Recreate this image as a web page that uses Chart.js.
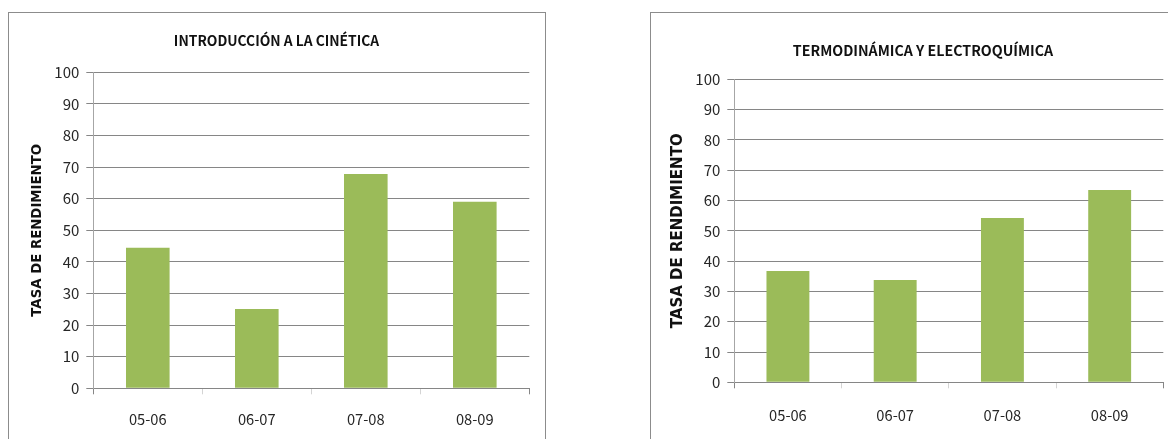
<!DOCTYPE html>
<html lang="es">
<head>
<meta charset="utf-8">
<title>Tasa de rendimiento por curso</title>
<script src="https://cdn.jsdelivr.net/npm/chart.js@4/dist/chart.umd.min.js"></script>
<style>
  html, body { margin: 0; padding: 0; background: #fff; overflow: hidden; }
  body { width: 1168px; height: 439px; position: relative; }
  .marco { position: absolute; border: 1px solid #8c8c8c; background: #fff; box-sizing: content-box; }
  .marco canvas { position: absolute; left: 0; top: 0; }
</style>
</head>
<body>
<div class="marco" style="left:8px; top:12px; width:536px; height:440px;">
  <canvas id="graficoCinetica" width="536" height="426"></canvas>
</div>
<div class="marco" style="left:650px; top:12px; width:560px; height:440px;">
  <canvas id="graficoTermo" width="517" height="426"></canvas>
</div>
<script>
// Cursos académicos
const temporadas = ['05-06', '06-07', '07-08', '08-09'];

// Tasa de rendimiento (%) por asignatura
const tasaCinetica = [44.5, 25.1, 67.8, 59.0];
const tasaTermo = [36.7, 33.8, 54.2, 63.5];

// Marcas del eje vertical
const marcasY = [0, 10, 20, 30, 40, 50, 60, 70, 80, 90, 100];

const tituloCinetica = 'INTRODUCCIÓN A LA CINÉTICA';
const tituloTermo = 'TERMODINÁMICA Y ELECTROQUÍMICA';
const tituloEjeY = 'TASA DE RENDIMIENTO';

const VERDE = '#9BBB59';
const GRIS_REJILLA = '#868686';
const GRIS_CLARO = '#d4d4d4';
const FUENTE = "'Noto Sans CJK JP', 'Liberation Sans', Arial, sans-serif";

function grafico(id, titulo, valores, a) {
  return new Chart(document.getElementById(id), {
    type: 'bar',
    data: {
      labels: temporadas,
      datasets: [{
        data: valores,
        backgroundColor: VERDE,
        borderWidth: 0,
        barPercentage: 0.4,
        categoryPercentage: 1.0
      }]
    },
    options: {
      responsive: false,
      animation: false,
      devicePixelRatio: 1,
      events: [],
      layout: { padding: { left: a.padIzq, right: a.padDer, top: 0, bottom: 0 } },
      plugins: {
        legend: { display: false },
        tooltip: { enabled: false },
        title: {
          display: true,
          text: titulo,
          color: '#111',
          font: { family: FUENTE, size: a.tamTitulo, weight: 'bold', lineHeight: 1.2 },
          padding: { top: a.tituloArriba, bottom: a.tituloAbajo }
        }
      },
      scales: {
        x: {
          offset: true,
          grid: {
            offset: true,
            drawOnChartArea: false,
            drawTicks: true,
            tickLength: 6,
            // extremos del eje más oscuros, divisiones interiores claras
            color: ctx => (ctx.index === undefined || ctx.index === 0) ? GRIS_REJILLA : GRIS_CLARO
          },
          border: { color: GRIS_REJILLA, width: 1 },
          ticks: {
            color: '#262626',
            font: { family: FUENTE, size: 14.7, lineHeight: 1.2 },
            padding: a.padEtiquetaX,
            maxRotation: 0
          },
          afterFit: s => { s.height = a.altoX; }
        },
        y: {
          min: marcasY[0],
          max: marcasY[marcasY.length - 1],
          ticks: {
            stepSize: marcasY[1] - marcasY[0],
            color: '#262626',
            font: { family: FUENTE, size: 15, lineHeight: 1.2 },
            padding: 7
          },
          grid: { color: GRIS_REJILLA, tickLength: 7, lineWidth: 1 },
          border: { color: '#a6a6a6', width: 1 },
          title: {
            display: true,
            text: tituloEjeY,
            color: '#111',
            font: { family: "'DejaVu Sans', Verdana, sans-serif", size: a.tamEjeY, weight: 'bold', lineHeight: 1.2 },
            padding: { top: a.padEjeY, bottom: 0 }
          },
          afterFit: s => { s.width = a.anchoY; }
        }
      }
    }
  });
}

grafico('graficoCinetica', tituloCinetica, tasaCinetica, {
  padIzq: 14.7, padDer: 15.7, anchoY: 69.6,
  tamTitulo: 13.8, tituloArriba: 19.0, tituloAbajo: 23.7,
  altoX: 50.7, padEtiquetaX: 16.2,
  tamEjeY: 13.3, padEjeY: 5.8
});

grafico('graficoTermo', tituloTermo, tasaTermo, {
  padIzq: 31.7, padDer: 4.7, anchoY: 51.6,
  tamTitulo: 14.2, tituloArriba: 29.3, tituloAbajo: 20.0,
  altoX: 56.7, padEtiquetaX: 18.2,
  tamEjeY: 15, padEjeY: -13.2
});
</script>
</body>
</html>
